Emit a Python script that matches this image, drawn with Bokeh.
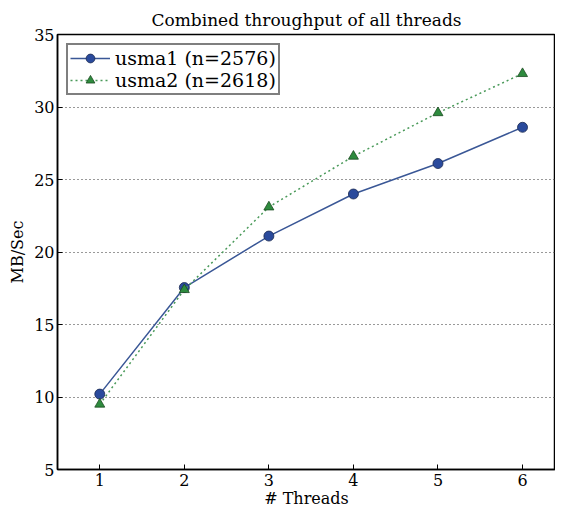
from bokeh.plotting import figure
from bokeh.models import ColumnDataSource, Range1d, FixedTicker, Legend, LegendItem
from bokeh.embed import file_html
from bokeh.resources import INLINE

threads = [1, 2, 3, 4, 5, 6]
usma1 = [10.2, 17.55, 21.1, 24.0, 26.1, 28.6]
usma2 = [9.5, 17.4, 23.1, 26.6, 29.6, 32.3]
label1 = "usma1 (n=2576)"
label2 = "usma2 (n=2618)"
title = "Combined throughput of all threads"
x_label = "# Threads"
y_label = "MB/Sec"
y_ticks = [5, 10, 15, 20, 25, 30, 35]

FONT = "DejaVu Serif"

p = figure(width=550, height=510, output_backend="svg", toolbar_location=None,
           x_range=Range1d(0.5, 6.39), y_range=Range1d(5, 35))
p.margin = (0, 0, 0, 5)
p.min_border_left = 0
p.min_border_right = 0
p.min_border_top = 34
p.min_border_bottom = 0
p.title.text = title
p.title.text_font = FONT
p.title.text_font_size = "17px"
p.title.text_font_style = "normal"
p.title.text_color = "black"
p.title.align = "center"
p.outline_line_color = "black"
p.outline_line_width = 1.5

for ax in (p.xaxis[0], p.yaxis[0]):
    ax.major_label_text_font = FONT
    ax.major_label_text_font_size = "16px"
    ax.axis_label_text_font = FONT
    ax.axis_label_text_font_size = "16px"
    ax.axis_label_text_font_style = "normal"
    ax.major_tick_in = 5
    ax.major_tick_out = 0
    ax.minor_tick_line_color = None
    ax.axis_line_color = "black"
    ax.axis_line_width = 1.5
    ax.major_label_text_color = "black"
    ax.axis_label_text_color = "black"
p.xaxis.axis_label = x_label
p.yaxis.axis_label = y_label
p.xaxis.ticker = FixedTicker(ticks=threads)
p.yaxis.ticker = FixedTicker(ticks=y_ticks)
p.xaxis.axis_label_standoff = 0
p.xaxis.major_label_standoff = 4
p.yaxis.axis_label_standoff = 4
p.yaxis.major_label_standoff = 3

p.xgrid.grid_line_color = None
p.ygrid.grid_line_color = "#333333"
p.ygrid.grid_line_dash = "1 3"
p.ygrid.grid_line_width = 1.2

src = ColumnDataSource(dict(x=threads, y1=usma1, y2=usma2))
l1 = p.line("x", "y1", source=src, line_color="#3a5796", line_width=1.5)
m1 = p.scatter("x", "y1", source=src, marker="circle", size=10,
               fill_color="#2a4a9c", line_color="#1a2a50", line_width=0.8)
l2 = p.line("x", "y2", source=src, line_color="#4a9a5a", line_width=1.5, line_dash="2 3")
m2 = p.scatter("x", "y2", source=src, marker="triangle", size=10,
               fill_color="#2e8b3e", line_color="#1a4a20", line_width=0.8)

legend = Legend(items=[LegendItem(label=label1, renderers=[l1, m1]),
                       LegendItem(label=label2, renderers=[l2, m2])],
                location="top_left")
legend.label_text_font = FONT
legend.label_text_font_size = "19px"
legend.label_text_color = "black"
legend.border_line_color = "black"
legend.border_line_width = 2
legend.spacing = 0
legend.padding = 2
legend.margin = 9
legend.glyph_width = 40
legend.label_height = 22
legend.glyph_height = 22
p.add_layout(legend)

open("out.html", "w").write(file_html(p, INLINE))
